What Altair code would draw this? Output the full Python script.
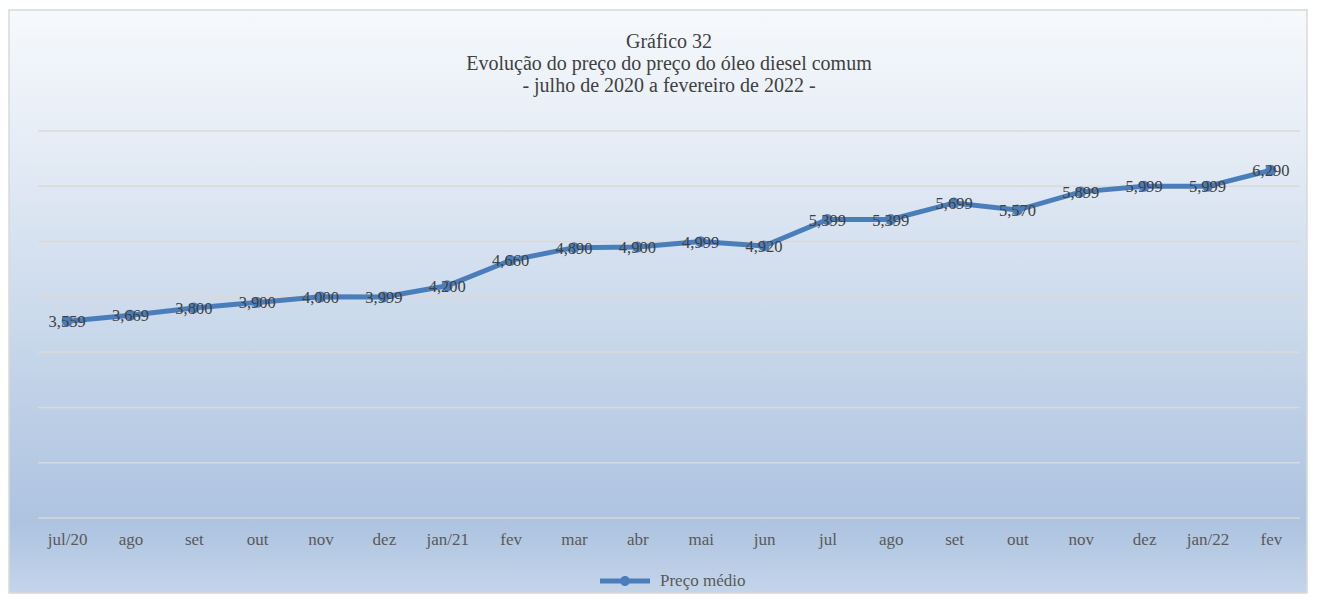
import json
import altair as alt
import pandas as pd

months = ["jul/20", "ago", "set", "out", "nov", "dez", "jan/21", "fev", "mar", "abr",
          "mai", "jun", "jul", "ago", "set", "out", "nov", "dez", "jan/22", "fev"]
prices = [3.559, 3.669, 3.800, 3.900, 4.000, 3.999, 4.200, 4.660, 4.890, 4.900,
          4.999, 4.920, 5.399, 5.399, 5.699, 5.570, 5.899, 5.999, 5.999, 6.290]
series_name = "Preço médio"
grid_values = [0, 1, 2, 3, 4, 5, 6, 7]

title_lines = ["Gráfico 32",
               "Evolução do preço do preço do óleo diesel comum",
               "- julho de 2020 a fevereiro de 2022 -"]

W, H = 1262, 387
BLUE = "#4a7ebb"
FONT = "Liberation Serif"

df = pd.DataFrame({"idx": list(range(len(months))), "preco": prices, "serie": series_name})
grid_df = pd.DataFrame({"g": grid_values})

label_expr = json.dumps(months) + "[datum.value]"

x_enc = alt.X("idx:O", scale=alt.Scale(padding=0.46),
              axis=alt.Axis(labelExpr=label_expr, labelAngle=0, domain=False, ticks=False,
                            grid=False, title=None, labelFont=FONT, labelFontSize=17,
                            labelColor="#595959", labelPadding=13, zindex=2))
y_scale = alt.Scale(domain=[0, 7], nice=False, zero=True)

bg = alt.Chart(pd.DataFrame({"a": [0]})).mark_rect(
    fill=alt.LinearGradient(
        gradient="linear", x1=0, x2=0, y1=0, y2=1,
        stops=[alt.GradientStop(color="#f6f9fc", offset=0),
               alt.GradientStop(color="#e6edf6", offset=0.22),
               alt.GradientStop(color="#c9d8eb", offset=0.55),
               alt.GradientStop(color="#adc3e0", offset=0.88),
               alt.GradientStop(color="#c4d5ea", offset=1)]),
    stroke="#d9d9d9", strokeWidth=1.5
).encode(x=alt.value(-29), x2=alt.value(W + 7), y=alt.value(-121), y2=alt.value(H + 75))

grid = alt.Chart(grid_df).mark_rule(color="#d9d9d9", strokeWidth=1.5).encode(
    y=alt.Y("g:Q", scale=y_scale, axis=None), x=alt.value(0), x2=alt.value(W))

base = alt.Chart(df)

line = base.mark_line(color=BLUE, strokeWidth=5).encode(
    x=x_enc, y=alt.Y("preco:Q", scale=y_scale, axis=None))

pts = base.mark_point(filled=True, size=120, opacity=1).encode(
    x=x_enc, y=alt.Y("preco:Q", scale=y_scale, axis=None),
    color=alt.Color("serie:N", scale=alt.Scale(range=[BLUE]),
                    legend=alt.Legend(title=None, orient="none", legendX=562, legendY=425,
                                      symbolType="M-1,-0.1H-0.18V0.1H-1Z M0.18,-0.1H1V0.1H0.18Z M0.2,0A0.2,0.2,0,1,1,-0.2,0A0.2,0.2,0,1,1,0.2,0Z",
                                      symbolSize=2500, symbolStrokeWidth=0, symbolOpacity=1,
                                      labelFont=FONT, labelFontSize=17, labelColor="#595959",
                                      labelOffset=10, padding=0)))

labels = base.transform_calculate(
    lab="replace(format(datum.preco, '.3f'), '.', ',')"
).mark_text(font=FONT, fontSize=16.5, color="#404040", baseline="middle", dy=1).encode(
    x=x_enc, y=alt.Y("preco:Q", scale=y_scale, axis=None), text="lab:N")

chart = alt.layer(bg, grid, line, pts, labels).properties(
    width=W, height=H,
    autosize=alt.AutoSizeParams(type="none"),
    padding={"left": 30, "top": 123, "right": 8, "bottom": 76},
    background="white",
    title=alt.TitleParams(text=title_lines, font=FONT, fontSize=20, fontWeight="normal",
                          color="#404040", lineHeight=22, anchor="middle", offset=-87),
).configure_view(stroke=None)

chart.save("out.html", embed_options={"renderer": "svg", "actions": False})
